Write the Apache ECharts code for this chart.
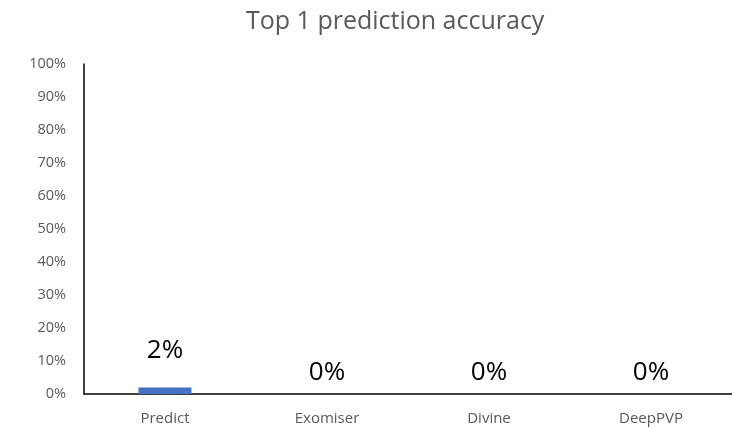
<!DOCTYPE html>
<html>
<head>
<meta charset="utf-8">
<script src="https://cdn.jsdelivr.net/npm/echarts@6/dist/echarts.min.js"></script>
<style>
    html, body { margin: 0; padding: 0; background: #fff; }
    #chart { width: 732px; height: 429px; }
</style>
</head>
<body>
<div id="chart"></div>
<script>
    // data
    var categories = ['Predict', 'Exomiser', 'Divine', 'DeepPVP'];
    var accuracy = [2, 0, 0, 0];
    var yTicks = [0, 10, 20, 30, 40, 50, 60, 70, 80, 90, 100];

    var font = '"Open Sans", "Liberation Sans", sans-serif';

    var chart = echarts.init(document.getElementById('chart'));

    chart.setOption({
        animation: false,
        title: {
            text: 'Top 1 prediction accuracy',
            left: 241,
            top: 4,
            textStyle: { fontFamily: font, fontSize: 25, fontWeight: 'normal', color: '#595959' }
        },
        grid: { left: 84, right: -8, top: 64, bottom: 35, containLabel: false },
        xAxis: {
            type: 'category',
            data: categories,
            axisLine: { lineStyle: { color: '#000', width: 1.5 } },
            axisTick: { show: false },
            axisLabel: { fontFamily: font, fontSize: 15, color: '#595959', margin: 17 }
        },
        yAxis: {
            type: 'value',
            min: yTicks[0],
            max: yTicks[yTicks.length - 1],
            interval: 10,
            axisLine: { show: true, lineStyle: { color: '#000', width: 1.5 } },
            axisTick: { show: false },
            splitLine: { show: false },
            axisLabel: {
                fontFamily: font, fontSize: 14.5, color: '#595959', margin: 18,
                formatter: function (v) { return v + '%'; }
            }
        },
        series: [{
            type: 'bar',
            barWidth: 53,
            data: accuracy.map(function (v) {
                return { value: v, label: { distance: v > 0 ? 24 : 8 } };
            }),
            itemStyle: { color: '#4472c4' },
            label: {
                show: true,
                position: 'top',
                fontFamily: font,
                fontSize: 26,
                color: '#000',
                formatter: function (p) { return p.value + '%'; }
            }
        }]
    });
</script>
</body>
</html>
